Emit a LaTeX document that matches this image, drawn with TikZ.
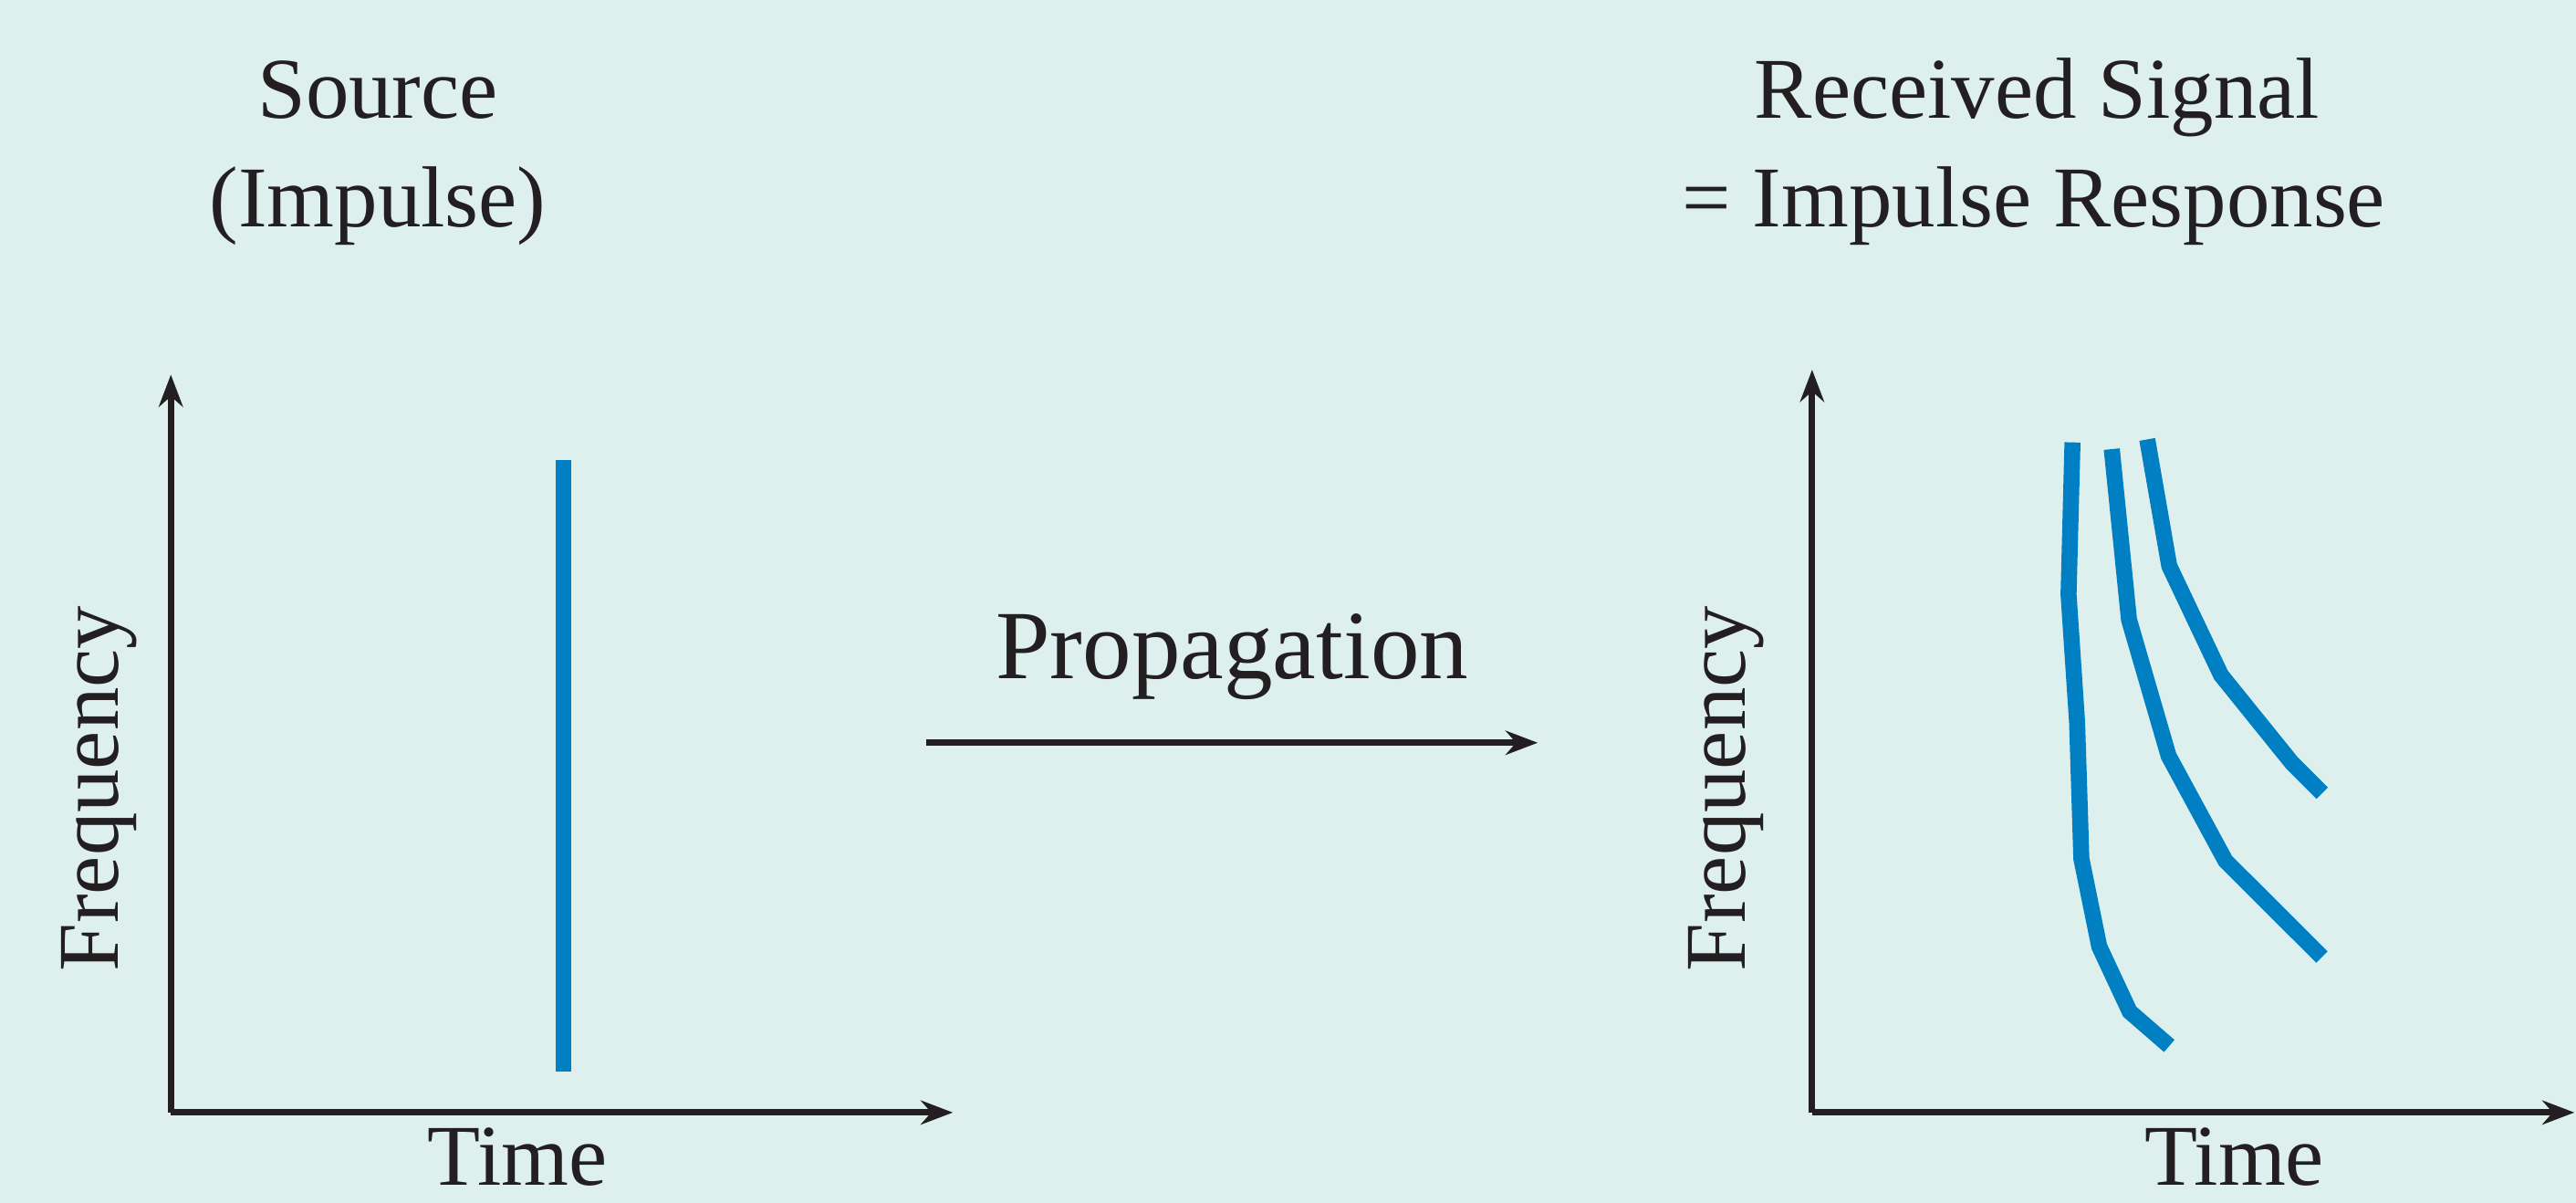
\documentclass[tikz,border=0pt]{standalone}
\usepackage{fontspec}
\setmainfont{Liberation Serif}
\usetikzlibrary{arrows.meta}
\definecolor{bgcol}{RGB}{221,240,238}
\definecolor{sigblue}{RGB}{0,128,194}
\definecolor{axisblack}{RGB}{35,31,32}
\begin{document}
\begin{tikzpicture}[x=0.018cm,y=-0.018cm,
  axis/.style={draw=axisblack,line width=2pt,-{Stealth[length=10pt,width=7.5pt]}},
  signal/.style={draw=sigblue,line width=5pt},
  lbl/.style={font=\fontsize{27}{32}\selectfont,text=axisblack,inner sep=0pt,anchor=base}]
\fill[bgcol] (0,0) rectangle (1568,732);
\useasboundingbox (0,0) rectangle (1568,732);
% titles
\node[lbl] (src) at (230,72) {Source};
\node[lbl] (imp) at (230,138) {(Impulse)};
\node[lbl] (rec) at (1240,72) {Received Signal};
\node[lbl] (resp) at (1238,138) {= Impulse Response};
% source axes
\coordinate (o1) at (104,677);
\coordinate (y1) at (104,228);
\coordinate (x1) at (580,677);
\draw[axis] (o1) -- (y1);
\draw[axis] (o1) -- (x1);
\node[lbl,rotate=90] (f1) at (72,480) {Frequency};
\node[lbl] (t1) at (315,721) {Time};
\draw[signal] (343,280) -- (343,652);
% propagation
\coordinate (p1) at (564,452);
\coordinate (p2) at (936,452);
\draw[axis] (p1) -- (p2);
\node[lbl,font=\fontsize{30.5}{36}\selectfont] (prop) at (750,413) {Propagation};
% received axes
\coordinate (o2) at (1103,677);
\coordinate (y2) at (1103,225);
\coordinate (x2) at (1567,677);
\draw[axis] (o2) -- (y2);
\draw[axis] (o2) -- (x2);
\node[lbl,rotate=90] (f2) at (1062,480) {Frequency};
\node[lbl] (t2) at (1360,721) {Time};
% impulse response paths
\draw[signal] (1261.5,269.2) -- (1259.1,361.7) -- (1264.3,439.5) -- (1266.9,522.5)
  -- (1277.8,576.0) -- (1296.3,615.6) -- (1320.4,636.5);
\draw[signal] (1285.4,273.3) -- (1295.9,377.1) -- (1320.0,460.0) -- (1354.6,523.8)
  -- (1413.3,582.4);
\draw[signal] (1307.0,267.4) -- (1320.4,344.4) -- (1351.9,410.8) -- (1395.1,464.3)
  -- (1413.5,482.7);
\end{tikzpicture}
\end{document}
